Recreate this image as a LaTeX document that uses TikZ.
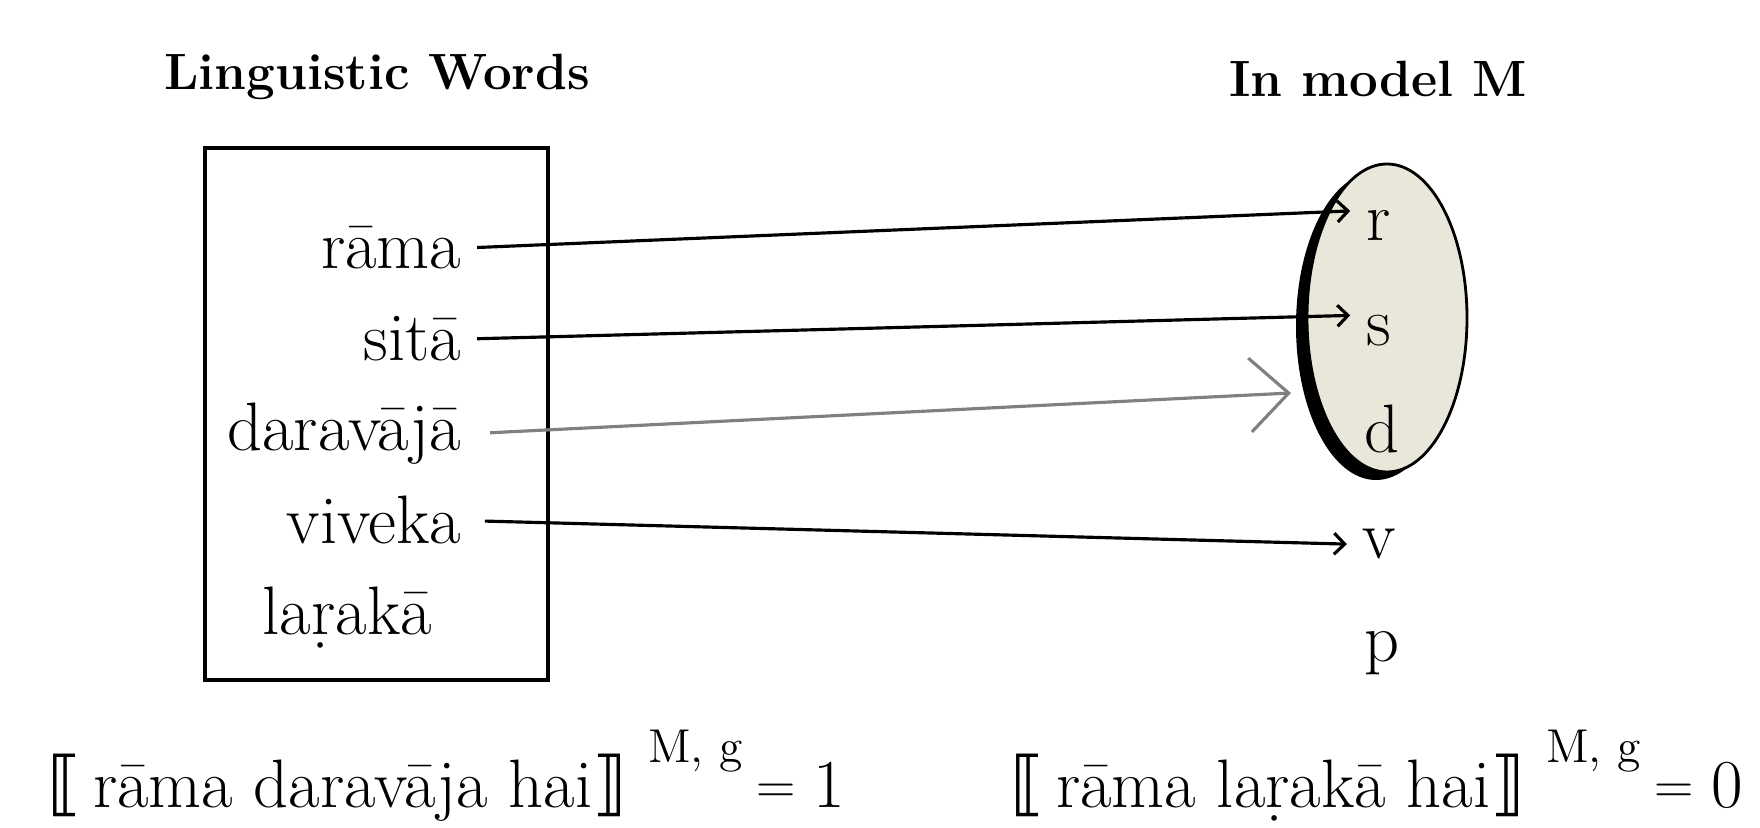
\documentclass[tikz,border=0pt]{standalone}
\usepackage{fontspec}
\usepackage{tikz}
\usetikzlibrary{arrows.meta}
\newfontfamily\bracketfont{DejaVu Sans}
\definecolor{modelfill}{RGB}{233,231,217}

\begin{document}
\begin{tikzpicture}[x=0.01cm, y=-0.01cm,
    word/.style={font=\fontsize{19.5}{22}\selectfont, inner sep=0pt, anchor=base east},
    elem/.style={font=\fontsize{19.5}{22}\selectfont, inner sep=0pt, anchor=base west},
    heading/.style={font=\fontsize{14.5}{16}\selectfont\bfseries, anchor=base},
    formula/.style={font=\fontsize{19.5}{22}\selectfont, inner sep=0pt, anchor=base west},
    mapsto/.style={-{Straight Barb[length=3pt,width=6pt]}, line width=0.9pt}]
    \useasboundingbox (0,0) rectangle (1760,828);

    % Headings
    \node[heading] (words) at (377,90) {Linguistic Words};
    \node[heading] (model) at (1378,97) {In model M};

    % Box with the words
    \draw[line width=1.1pt] (205,148) rectangle (548,680);
    \node[word] (rama) at (462,269) {rāma};
    \node[word] (sita) at (462,361) {sitā};
    \node[word] (darvaja) at (462,451) {daravājā};
    \node[word] (vivek) at (462,544) {viveka};
    \node[elem] (larka) at (262,635) {laṛakā};

    % Model M: shadow first, then the ellipse
    \fill (1376,326) ellipse [x radius=80, y radius=154];
    \draw[fill=modelfill, line width=0.8pt] (1387,318) ellipse [x radius=80, y radius=154];

    % Elements of the model
    \node[elem] (r) at (1366,241) {r};
    \node[elem] (s) at (1366,346) {s};
    \node[elem] (d) at (1364,453) {d};
    \node[elem] (v) at (1362,559) {v};
    \node[elem] (p) at (1364,662) {p};
    \coordinate (dtip) at (1291,393);

    % Mapping of the words
    \draw[mapsto, shorten <=4.3pt, shorten >=4.5pt] (rama.east) -- (r.north west);
    \draw[mapsto, shorten <=4.3pt, shorten >=4.5pt] (sita.east) -- (s.north west);
    \draw[gray, line width=0.9pt, -{Straight Barb[length=11pt,width=21pt]}, shorten <=8pt] (darvaja.east) -- (dtip);
    \draw[mapsto, shorten <=6.5pt, shorten >=4.3pt] (vivek.east) -- (v.west);

    % Truth values
    \node[formula] (true) at (47,808) {{\bracketfont\fontsize{20}{24}\selectfont ⟦}\hspace{3pt}rāma daravāja hai{\bracketfont\fontsize{20}{24}\selectfont ⟧}\hspace{6pt}\raisebox{12.8pt}{\fontsize{13.5}{15}\selectfont M, g}\hspace{4pt}\raisebox{1.3pt}{\fontsize{15.5}{18}\selectfont =}\hspace{5pt}1};
    \node[formula] (false) at (1010,808) {{\bracketfont\fontsize{20}{24}\selectfont ⟦}\hspace{3pt}rāma laṛakā hai{\bracketfont\fontsize{20}{24}\selectfont ⟧}\hspace{6pt}\raisebox{12.8pt}{\fontsize{13.5}{15}\selectfont M, g}\hspace{4pt}\raisebox{1.3pt}{\fontsize{15.5}{18}\selectfont =}\hspace{5pt}0};

\end{tikzpicture}
\end{document}
